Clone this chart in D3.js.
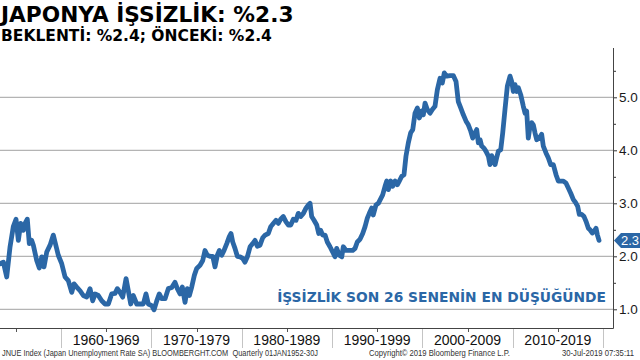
<!DOCTYPE html>
<html>
<head>
<meta charset="utf-8">
<script src="https://cdn.jsdelivr.net/npm/d3@7"></script>
<style>
  body { margin: 0; background: #fff; }
  svg { display: block; }
</style>
</head>
<body>
<svg id="chart" width="640" height="360"></svg>
<script>
// Japan unemployment rate SA, quarterly
const quarters = [
  1953.25, 1953.62, 1953.99, 1954.36, 1954.72, 1955.02, 1955.28, 1955.54, 1955.83, 1956.02,
  1956.27, 1956.49, 1956.76, 1956.94, 1957.31, 1957.60, 1957.87, 1958.12, 1958.42, 1958.79,
  1959.15, 1959.34, 1959.70, 1960.08, 1960.45, 1960.81, 1961.19, 1961.44, 1961.74, 1962.11,
  1962.47, 1962.85, 1963.21, 1963.51, 1963.77, 1964.13, 1964.51, 1964.87, 1965.24, 1965.61,
  1965.98, 1966.24, 1966.53, 1966.83, 1967.20, 1967.45, 1967.72, 1968.01, 1968.38, 1968.75,
  1969.11, 1969.41, 1969.67, 1970.04, 1970.30, 1970.60, 1970.88, 1971.15, 1971.52, 1971.88,
  1972.26, 1972.62, 1972.88, 1973.18, 1973.43, 1973.73, 1973.98, 1974.21, 1974.47, 1974.76,
  1975.02, 1975.39, 1975.69, 1975.94, 1976.20, 1976.50, 1976.80, 1977.05, 1977.31, 1977.53,
  1977.79, 1978.05, 1978.35, 1978.63, 1978.82, 1979.01, 1979.26, 1979.52, 1979.82, 1980.12,
  1980.37, 1980.63, 1980.93, 1981.22, 1981.48, 1981.73, 1982.03, 1982.33, 1982.59, 1982.95,
  1983.22, 1983.50, 1983.80, 1984.06, 1984.32, 1984.61, 1984.91, 1985.17, 1985.43, 1985.72,
  1986.02, 1986.27, 1986.54, 1986.83, 1987.12, 1987.38, 1987.57, 1987.75, 1988.01, 1988.31,
  1988.53, 1988.75, 1988.97, 1989.23, 1989.48, 1989.78, 1990.08, 1990.33, 1990.52, 1990.81,
  1991.08, 1991.25, 1991.55, 1991.92, 1992.29, 1992.55, 1992.80, 1993.10, 1993.40, 1993.66,
  1993.91, 1994.13, 1994.40, 1994.57, 1994.87, 1995.13, 1995.61, 1995.87, 1996.06, 1996.24,
  1996.50, 1996.72, 1996.98, 1997.23, 1997.45, 1997.72, 1997.97, 1998.19, 1998.45, 1998.71,
  1998.94, 1999.19, 1999.45, 1999.67, 1999.93, 2000.11, 2000.30, 2000.55, 2000.85, 2001.11,
  2001.40, 2001.66, 2001.96, 2002.21, 2002.43, 2002.70, 2003.07, 2003.43, 2003.73, 2003.98,
  2004.25, 2004.54, 2004.84, 2005.09, 2005.36, 2005.58, 2005.83, 2006.02, 2006.20, 2006.39,
  2006.57, 2006.83, 2007.05, 2007.31, 2007.49, 2007.68, 2007.86, 2008.05, 2008.23, 2008.41,
  2008.68, 2008.90, 2009.15, 2009.41, 2009.71, 2009.89, 2010.07, 2010.26, 2010.45, 2010.63,
  2010.89, 2011.18, 2011.37, 2011.55, 2011.73, 2011.92, 2012.11, 2012.29, 2012.47, 2012.66,
  2012.95, 2013.21, 2013.39, 2013.69, 2013.94, 2014.21, 2014.50, 2014.80, 2015.05, 2015.61,
  2015.91, 2016.16, 2016.43, 2016.72, 2016.98, 2017.20, 2017.38, 2017.65, 2017.90, 2018.12,
  2018.38, 2018.56, 2018.82, 2019.01, 2019.23, 2019.37, 2019.56
];
const rates = [
  1.86, 1.89, 1.61, 2.18, 2.56, 2.70, 2.30, 2.62, 2.49, 2.62,
  2.70, 2.24, 2.30, 2.21, 1.92, 1.78, 1.99, 1.80, 2.08, 2.21,
  2.40, 2.27, 2.02, 1.86, 1.61, 1.54, 1.32, 1.48, 1.42, 1.35,
  1.26, 1.23, 1.39, 1.16, 1.29, 1.26, 1.16, 1.10, 1.10, 1.29,
  1.30, 1.39, 1.32, 1.23, 1.58, 1.35, 1.10, 1.26, 1.10, 1.10,
  1.10, 1.29, 1.10, 1.07, 0.99, 1.16, 1.29, 1.20, 1.20, 1.39,
  1.41, 1.51, 1.39, 1.29, 1.42, 1.13, 1.39, 1.26, 1.42, 1.64,
  1.77, 1.83, 1.92, 2.11, 2.02, 2.00, 2.00, 1.80, 2.02, 2.11,
  2.02, 2.11, 2.24, 2.37, 2.43, 2.27, 2.15, 2.00, 1.99, 1.96,
  1.89, 1.99, 2.18, 2.24, 2.30, 2.19, 2.21, 2.35, 2.40, 2.43,
  2.56, 2.62, 2.68, 2.62, 2.70, 2.75, 2.65, 2.59, 2.59, 2.70,
  2.68, 2.81, 2.75, 2.81, 2.91, 2.97, 3.00, 2.75, 2.68, 2.59,
  2.43, 2.49, 2.40, 2.40, 2.27, 2.18, 2.08, 1.99, 2.15, 2.02,
  1.99, 2.18, 2.11, 2.11, 2.11, 2.15, 2.27, 2.32, 2.43, 2.56,
  2.72, 2.81, 2.91, 2.78, 2.97, 3.00, 3.16, 3.32, 3.42, 3.26,
  3.42, 3.32, 3.42, 3.35, 3.42, 3.51, 3.54, 3.89, 4.14, 4.33,
  4.39, 4.70, 4.80, 4.61, 4.74, 4.67, 4.89, 4.77, 4.70, 4.77,
  4.83, 5.14, 5.36, 5.27, 5.46, 5.40, 5.41, 5.41, 5.30, 4.92,
  4.80, 4.67, 4.55, 4.48, 4.36, 4.23, 4.33, 4.39, 4.14, 4.20,
  4.08, 4.04, 3.98, 3.89, 3.73, 3.90, 3.82, 3.73, 3.86, 3.98,
  4.01, 4.33, 4.77, 5.21, 5.40, 5.30, 5.11, 5.24, 5.11, 5.18,
  5.05, 4.83, 4.70, 4.74, 4.23, 4.45, 4.52, 4.48, 4.33, 4.20,
  4.23, 4.30, 4.08, 3.95, 3.86, 3.73, 3.73, 3.54, 3.42, 3.42,
  3.38, 3.29, 3.19, 3.07, 3.01, 2.94, 2.79, 2.79, 2.75, 2.66,
  2.53, 2.50, 2.44, 2.47, 2.53, 2.41, 2.30
];
const decades = [1960, 1970, 1980, 1990, 2000, 2010];
const yTicks = [1, 2, 3, 4, 5];
const yMinorTicks = [1.5, 2.5, 3.5, 4.5, 5.5];
const lastValue = 2.3;

const title = 'JAPONYA İŞSİZLİK: %2.3';
const subtitle = 'BEKLENTİ: %2.4; ÖNCEKİ: %2.4';
const note = 'İŞSİZLİK SON 26 SENENİN EN DÜŞÜĞÜNDE';

const blue = '#2b67a6';
const plot = { left: 0, right: 613, top: 48, bottom: 328 };

const svg = d3.select('#chart');
const x = d3.scaleLinear().domain([1960, 2020]).range([61, 603]);
const y = d3.scaleLinear().domain([1, 5]).range([309.3, 97.3]);

// horizontal gridlines
svg.append('g').selectAll('line').data(yTicks).join('line')
  .attr('x1', plot.left).attr('x2', plot.right)
  .attr('y1', d => y(d)).attr('y2', d => y(d))
  .attr('stroke', '#b4b4b4').attr('stroke-width', 1.3);

// right axis
const yAxis = svg.append('g').attr('transform', `translate(${plot.right},0)`)
  .call(d3.axisRight(y).tickValues(yTicks).tickSize(4).tickPadding(2).tickFormat(d3.format('.1f')));
yAxis.select('.domain').remove();
yAxis.selectAll('line').attr('stroke', '#333');
yAxis.selectAll('text').attr('font-family', 'Liberation Sans, Arial, sans-serif')
  .attr('font-size', 13.5).attr('fill', '#1a1a1a');
const yMinor = svg.append('g').attr('transform', `translate(${plot.right},0)`)
  .call(d3.axisRight(y).tickValues(yMinorTicks).tickSize(3).tickFormat(''));
yMinor.select('.domain').remove();
yMinor.selectAll('line').attr('stroke', '#333');

// frame: right and bottom edges
svg.append('path')
  .attr('d', `M${plot.right + 0.5},${plot.top}V${plot.bottom + 0.5}H${plot.left}`)
  .attr('fill', 'none').attr('stroke', '#444').attr('stroke-width', 1);

// bottom decade bands
const bounds = decades.concat([2020]);
svg.append('g').selectAll('line').data(bounds).join('line')
  .attr('x1', d => Math.round(x(d)) + 0.5).attr('x2', d => Math.round(x(d)) + 0.5)
  .attr('y1', plot.bottom + 1).attr('y2', plot.bottom + 20)
  .attr('stroke', '#c4c4c4');
svg.append('g').selectAll('line').data([1955].concat(decades.map(d => d + 5))).join('line')
  .attr('x1', d => Math.round(x(d)) + 0.5).attr('x2', d => Math.round(x(d)) + 0.5)
  .attr('y1', plot.bottom + 1).attr('y2', plot.bottom + 4)
  .attr('stroke', '#555');
svg.append('g').selectAll('text').data(decades).join('text')
  .attr('x', d => x(d + 5)).attr('y', plot.bottom + 17)
  .attr('text-anchor', 'middle')
  .attr('font-family', 'Liberation Sans, Arial, sans-serif')
  .attr('font-size', 14).attr('fill', '#111')
  .text(d => `${d}-${d + 9}`);

// the series
const series = quarters.map((q, i) => [q, rates[i]]);
svg.append('path').datum(series)
  .attr('d', d3.line().x(d => x(d[0])).y(d => y(d[1])))
  .attr('fill', 'none').attr('stroke', blue)
  .attr('stroke-width', 4.8).attr('stroke-linejoin', 'round').attr('stroke-linecap', 'round');

// last value tag
const ty = y(lastValue);
svg.append('path')
  .attr('d', `M${plot.right + 1},${ty} L${plot.right + 8},${ty - 7.5} H640 V${ty + 7.5} H${plot.right + 8} Z`)
  .attr('fill', blue);
svg.append('text').attr('x', 630).attr('y', ty + 4.5).attr('text-anchor', 'middle')
  .attr('font-family', 'Liberation Sans, Arial, sans-serif').attr('font-size', 13)
  .attr('fill', '#fff').text(d3.format('.1f')(lastValue));

// annotation
svg.append('text').attr('x', 606).attr('y', 302).attr('text-anchor', 'end')
  .attr('font-family', 'DejaVu Sans, Verdana, sans-serif').attr('font-weight', 'bold')
  .attr('font-size', 13.8).attr('fill', blue).text(note);

// headline
svg.append('text').attr('x', 1).attr('y', 22)
  .attr('font-family', 'DejaVu Sans, Verdana, sans-serif').attr('font-weight', 'bold')
  .attr('font-size', 21.7).attr('fill', '#000').text(title);
svg.append('text').attr('x', 1).attr('y', 41)
  .attr('font-family', 'DejaVu Sans, Verdana, sans-serif').attr('font-weight', 'bold')
  .attr('font-size', 15.5).attr('fill', '#000').text(subtitle);

// footer
const footer = [
  { text: 'JNUE Index (Japan Unemployment Rate SA) BLOOMBERGHT.COM  Quarterly 01JAN1952-30J', x: 2, w: 316, anchor: 'start' },
  { text: 'Copyright\u00a9 2019 Bloomberg Finance L.P.', x: 369, w: 141, anchor: 'start' },
  { text: '30-Jul-2019 07:35:11', x: 634, w: 72, anchor: 'end' }
];
svg.append('g').selectAll('text').data(footer).join('text')
  .attr('x', d => d.x).attr('y', 356).attr('text-anchor', d => d.anchor)
  .attr('font-family', 'Liberation Sans Narrow, Liberation Sans, Arial, sans-serif').attr('font-size', 8.6)
  .attr('fill', '#333').attr('textLength', d => d.w).attr('lengthAdjust', 'spacingAndGlyphs')
  .style('white-space', 'pre')
  .text(d => d.text);
</script>
</body>
</html>
